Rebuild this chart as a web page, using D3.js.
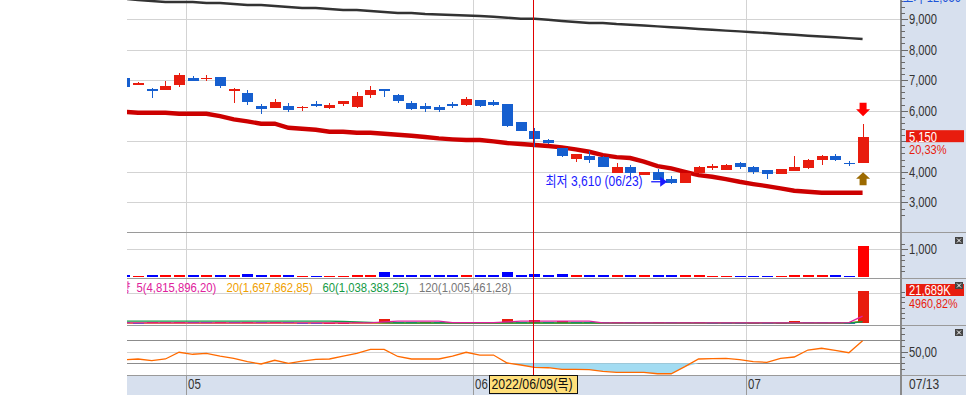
<!DOCTYPE html>
<html><head><meta charset="utf-8">
<script src="https://cdn.jsdelivr.net/npm/d3@7/dist/d3.min.js"></script>
<style>
html,body{margin:0;padding:0;background:#fff;overflow:hidden}
svg{display:block}
text{font-family:"Liberation Sans","Noto Sans CJK KR",sans-serif}
</style></head><body>
<svg id="c" width="966" height="395"></svg>
<script>
// ---------------- DATA ----------------
const dates = ["04/25","04/26","04/27","04/28","04/29",
 "05/02","05/03","05/04","05/06","05/09","05/10","05/11","05/12","05/13","05/16","05/17","05/18","05/19","05/20",
 "05/23","05/24","05/25","05/26","05/27","05/30","05/31",
 "06/02","06/03","06/07","06/08","06/09","06/10","06/13","06/14","06/15","06/16","06/17","06/20","06/21","06/22",
 "06/23","06/24","06/27","06/28","06/29","06/30",
 "07/01","07/04","07/05","07/06","07/07","07/08","07/11","07/12","07/13"];
const open  = [7070,6850,6710,6690,6850,7070,7040,7100,6660,6580,6150,6100,6150,6100,6230,6100,6230,6130,6520,6710,6520,6260,6150,6120,6210,6200,6350,6290,6220,5630,5340,5040,4780,4430,4520,4470,3960,4160,3890,3990,3760,3620,3970,4130,4060,4290,4160,4060,3930,4030,4120,4390,4520,4290,4280];
const high  = [7070,6940,6740,6970,7220,7130,7170,7100,6740,6670,6220,6370,6250,6160,6320,6250,6330,6610,6810,6710,6530,6320,6260,6180,6290,6450,6350,6350,6220,5630,5440,5070,4780,4580,4690,4510,4290,4220,4000,4080,3860,3950,4190,4250,4250,4320,4190,4060,4090,4520,4430,4550,4580,4350,5560];
const low   = [6780,6850,6420,6690,6780,6980,6980,6750,6260,6200,5900,6100,5970,6000,6130,6060,6160,6090,6420,6460,6260,6020,5970,5960,6100,6160,6130,6150,5470,5340,4800,4910,4490,4330,4290,4170,3960,3770,3890,3740,3610,3620,3970,4060,4060,4090,3930,3760,3930,4030,4090,4220,4350,4190,4280];
const close = [6780,6900,6650,6810,7170,6980,7080,6820,6710,6290,6060,6280,6030,6130,6160,6190,6330,6490,6690,6650,6330,6060,6060,6020,6170,6380,6160,6190,5500,5340,5060,4930,4530,4580,4400,4170,4160,3950,3990,3740,3620,3950,4160,4190,4220,4160,3990,3930,4090,4160,4390,4520,4390,4280,5150];
const maLong = [9660,9622,9589,9556,9556,9556,9524,9524,9491,9458,9458,9425,9393,9360,9360,9327,9295,9295,9262,9229,9196,9196,9164,9147,9131,9115,9098,9075,9043,9010,9010,8977,8935,8902,8869,8869,8836,8813,8787,8758,8732,8705,8673,8647,8620,8594,8568,8542,8509,8483,8453,8427,8401,8375,8345];
const maMid = [5966,5933,5933,5933,5900,5900,5900,5825,5717,5651,5573,5573,5442,5410,5377,5311,5311,5279,5279,5246,5213,5180,5138,5095,5063,5040,5040,4997,4942,4909,4876,4843,4801,4735,4657,4549,4483,4451,4336,4189,4113,4002,3894,3839,3763,3675,3600,3534,3459,3380,3348,3315,3315,3315,3315];
const tradeValue = [75,40,70,68,72,66,62,70,64,105,68,74,66,42,38,35,38,70,75,175,65,60,68,62,70,72,66,68,170,70,105,62,108,66,70,68,72,64,60,66,62,72,70,38,36,35,34,32,36,72,74,70,66,34,1130];
const volume = [640,420,610,640,700,620,600,650,620,1150,720,760,690,430,390,400,420,720,760,2900,700,650,680,640,700,720,660,690,2700,760,1950,740,1300,720,690,660,700,640,620,650,600,680,700,420,400,380,390,370,410,1350,640,600,560,428,21689];
const volMA5   = [350,350,350,350,350,350,350,350,350,350,350,350,350,350,350,350,350,350,350,900,1500,1500,1500,1500,400,400,400,400,900,1500,1500,1500,1500,1500,1500,350,350,350,350,350,350,350,350,350,350,350,350,350,350,350,350,350,350,420,4816];
const volMA20  = [120,120,120,120,120,120,120,120,120,120,120,120,120,120,120,120,120,120,120,120,120,120,120,120,120,120,120,120,120,120,120,120,120,120,120,120,120,120,120,120,120,120,120,120,120,120,120,120,120,120,120,120,120,150,1698];
const volMA60  = [1500,1500,1500,1500,1500,1500,1500,1500,1500,1500,1500,1500,1500,1500,1500,1500,1200,900,600,300,200,200,200,200,200,200,200,200,200,200,200,200,200,200,200,200,200,200,200,200,200,200,200,200,200,200,200,200,200,200,200,200,200,200,1038];
const volMA120 = [60,60,60,60,60,60,60,60,60,60,60,60,60,60,60,60,60,60,60,60,60,60,60,60,60,60,60,60,60,60,60,60,60,60,60,60,60,60,60,60,60,60,60,60,60,60,60,60,60,60,60,60,60,80,1005];
const indicator = [36.2,37.4,34.5,37.4,48.9,45.5,47.2,42.5,38.6,32.7,28.8,35.2,30.0,33.9,36.9,37.4,42.5,47.2,54.0,54.0,41.7,37.4,37.4,37.4,42.5,48.9,44.2,44.2,30.5,27.1,23.1,22.4,19.7,19.7,19.0,16.3,14.5,14.5,14.5,12.1,12.1,24.2,37.4,37.9,38.6,36.2,32.7,31.7,38.6,40.8,52.8,55.8,52.3,48.2,68.8];
const priceTicks = [3000,4000,5000,6000,7000,8000,9000];
const monthLabels = ["05","06","07"];
const monthStartIdx = [5,26,46];
const legendLabels = ["5(4,815,896,20)","20(1,697,862,85)","60(1,038,383,25)","120(1,005,461,28)"];
const crossIdx = 30;
const crossLabel = "2022/06/09(목)";
const lowIdx = 40;
const lowLabel = "최저 3,610 (06/23)";
const lastDateLabel = "07/13";
const volLastLabel = "21,689K";
const volChangeLabel = "4960,82%";
const topLabel = "고가 12,050";

// ---------------- LAYOUT ----------------
const W = 966, H = 395;
const L = 127, R = 901;
const P = {price:[0,232], tv:[232,277.5], vol:[277.5,324.5], ind:[324.5,375]};
const AXBG = "#d7e0ee";
const RED = "#e81c0e", BLUE = "#165fcf";
const svg = d3.select("#c");

const x = d3.scaleLinear().domain([0,1]).range([124.4, 124.4+13.67]);
const yP = d3.scaleLinear().domain([3000,9000]).range([202.4,19]);
const yT = d3.scaleLinear().domain([0,1000]).range([277,249.3]);
const yV = d3.scaleLinear().domain([0,21689]).range([323.3,291]);
const yI = d3.scaleLinear().domain([30,70]).range([363.3,340]);
const n = close.length;
const idx = d3.range(n);
const comma = s => s.replace(".", ",");
function narrow(sel, f){
  sel.each(function(){
    const w = this.getComputedTextLength();
    this.setAttribute("textLength", (w*f).toFixed(2));
    this.setAttribute("lengthAdjust","spacingAndGlyphs");
  });
  return sel;
}

svg.append("rect").attr("width",W).attr("height",H).attr("fill","#fff");
svg.append("rect").attr("x",R).attr("y",0).attr("width",W-R).attr("height",H).attr("fill",AXBG);
svg.append("rect").attr("x",L).attr("y",375).attr("width",R-L).attr("height",20).attr("fill",AXBG);

const defs = svg.append("defs");
Object.entries(P).forEach(([k,[a,b]])=>{
  defs.append("clipPath").attr("id","clip-"+k).append("rect").attr("x",L).attr("y",a).attr("width",R-L).attr("height",b-a);
});
const g = k => svg.append("g").attr("clip-path",`url(#clip-${k})`);

// ---------- grid ----------
const grid = svg.append("g").attr("shape-rendering","crispEdges");
const hl = (yy,c)=>grid.append("line").attr("x1",L).attr("x2",R).attr("y1",Math.round(yy)+0.5).attr("y2",Math.round(yy)+0.5).attr("stroke",c);
priceTicks.forEach(v=>hl(yP(v),"#d3d3d3"));
hl(yT(1000),"#d3d3d3");
hl(293,"#d3d3d3");
hl(yI(50),"#d3d3d3");
monthStartIdx.forEach(i=>{
  const gx = Math.round(x(i-0.5))+0.5;
  grid.append("line").attr("x1",gx).attr("x2",gx).attr("y1",0).attr("y2",375).attr("stroke","#d3d3d3");
});
[70,30].forEach(v=>hl(yI(v),"#8c8c8c"));

// ---------- price panel ----------
const gp = g("price");
gp.append("path").datum(maLong).attr("fill","none").attr("stroke","#333").attr("stroke-width",2.4)
  .attr("d", d3.line().x((d,i)=>x(i)).y(d=>yP(d)));
gp.append("path").datum(maMid).attr("fill","none").attr("stroke","#cc0000").attr("stroke-width",4.4)
  .attr("d", d3.line().x((d,i)=>x(i)).y(d=>yP(d)));
const cg = gp.append("g").attr("shape-rendering","crispEdges");
idx.forEach(i=>{
  const col = close[i] >= open[i] ? RED : BLUE;
  const cx = Math.round(x(i));
  cg.append("rect").attr("x",cx).attr("width",1.2).attr("y",yP(high[i])).attr("height",Math.max(1,yP(low[i])-yP(high[i]))).attr("fill",col);
  const top = yP(Math.max(open[i],close[i])), bot = yP(Math.min(open[i],close[i]));
  cg.append("rect").attr("x",cx-5).attr("width",11).attr("y",top).attr("height",Math.max(1.2,bot-top)).attr("fill",col);
});
{
  const cx = x(n-1)+0.5, hy = yP(high[n-1]), ly = yP(low[n-1]);
  gp.append("path").attr("fill","#ff0000")
    .attr("d",`M${cx-3.5},${hy-21.5}H${cx+3.5}V${hy-15}H${cx+7}L${cx},${hy-8}L${cx-7},${hy-15}H${cx-3.5}Z`);
  gp.append("path").attr("fill","#9c6a00")
    .attr("d",`M${cx-3.5},${ly+22}H${cx+3.5}V${ly+15.5}H${cx+7}L${cx},${ly+9}L${cx-7},${ly+15.5}H${cx-3.5}Z`);
}
{
  const ax = x(lowIdx)-4, ay = yP(low[lowIdx])-2;
  narrow(gp.append("text").attr("x",545.5).attr("y",ay+4.5).attr("font-size",14).attr("fill","#1a1aff").text(lowLabel),0.86);
  gp.append("line").attr("x1",ax-16).attr("x2",ax-6).attr("y1",ay).attr("y2",ay).attr("stroke","#1a1aff").attr("stroke-width",1.3);
  gp.append("path").attr("fill","#1a1aff").attr("d",`M${ax-7},${ay-5}L${ax},${ay}L${ax-7},${ay+5}Z`);
}

// ---------- trade value panel ----------
const gt = g("tv").attr("shape-rendering","crispEdges");
idx.forEach(i=>{
  const col = close[i] >= open[i] ? "#ff0000" : "#0000ff";
  gt.append("rect").attr("x",Math.round(x(i))-5).attr("width",10.5).attr("y",yT(tradeValue[i])).attr("height",yT(0)-yT(tradeValue[i])).attr("fill",col);
});

// ---------- volume panel ----------
const gv = g("vol");
const maLine = (arr,c)=>gv.append("path").datum(arr).attr("fill","none").attr("stroke",c).attr("stroke-width",1.3)
    .attr("d", d3.line().x((d,i)=>x(i)).y(d=>yV(d)));
maLine(volMA120,"#888");
maLine(volMA20,"#f0a000");
const gvb = gv.append("g").attr("shape-rendering","crispEdges");
idx.forEach(i=>{
  const col = (i>0 && volume[i] > volume[i-1]) ? RED : "#3a66c4";
  gvb.append("rect").attr("x",Math.round(x(i))-5).attr("width",10.5).attr("y",yV(volume[i])).attr("height",Math.max(1,yV(0)-yV(volume[i]))).attr("fill",col);
});
maLine(volMA60,"#139a45");
maLine(volMA5,"#e0209c");
const legColors = ["#e0209c","#f0a000","#139a45","#777"];
const legX = [136.5,226.5,322.5,419];
narrow(gv.append("text").attr("x",120).attr("y",291.5).attr("font-size",13).attr("fill","#e0209c").text("량"),0.86);
legendLabels.forEach((t,k)=>narrow(gv.append("text").attr("x",legX[k]).attr("y",291.5).attr("font-size",13).attr("fill",legColors[k]).text(t),0.87));

// ---------- indicator panel ----------
const gi = g("ind");
gi.append("path").datum(indicator).attr("fill","#a3dcf2")
  .attr("d", d3.area().x((d,i)=>x(i)).y0(yI(30)).y1(d=>yI(Math.min(d,30))));
gi.append("path").datum(indicator).attr("fill","none").attr("stroke","#ff6a00").attr("stroke-width",1.3)
  .attr("d", d3.line().x((d,i)=>x(i)).y(d=>yI(d)));

// ---------- separators ----------
const sep = svg.append("g").attr("shape-rendering","crispEdges");
[232,277.5,324.5,375].forEach(v=>sep.append("line").attr("x1",L).attr("x2",W).attr("y1",Math.round(v)+0.5).attr("y2",Math.round(v)+0.5).attr("stroke","#9a9a9a"));
sep.append("line").attr("x1",R).attr("x2",R).attr("y1",0).attr("y2",H).attr("stroke","#8a8a8a").attr("stroke-width",2);

// ---------- crosshair ----------
const chx = Math.round(x(crossIdx))-0.5;
svg.append("line").attr("x1",chx).attr("x2",chx).attr("y1",0).attr("y2",375).attr("stroke","#e00000").attr("stroke-width",1).attr("shape-rendering","crispEdges");

// ---------- right axes ----------
const closeY = yP(close[n-1]);
function axis(scale, minorVals, majorVals, fmt){
  const a = svg.append("g").attr("transform",`translate(${R},0)`);
  a.call(d3.axisRight(scale).tickValues(minorVals).tickSize(4).tickFormat(""));
  a.select(".domain").remove();
  const b = svg.append("g").attr("transform",`translate(${R},0)`);
  b.call(d3.axisRight(scale).tickValues(majorVals).tickSize(7).tickPadding(1).tickFormat(fmt));
  b.select(".domain").remove();
  [a,b].forEach(s=>{s.selectAll("line").attr("stroke","#6a6a6a").attr("shape-rendering","crispEdges");
    s.selectAll("text").attr("font-size",14).attr("fill","#333").attr("font-family",null);});
  narrow(b.selectAll("text"),0.8);
  return b;
}
const pa = axis(yP, d3.range(2600,9800,200).filter(v=>v%1000), priceTicks, d3.format(","));
pa.selectAll(".tick").filter(d=>Math.abs(yP(d)-closeY)<12).select("text").remove();
axis(yT, [200,400,600,800,1200], [1000], d3.format(","));
axis(yV, [3500,7000,10500,14000,17500,21000], [], "");
axis(yI, [20,30,40,60,70,80,90], [50], d=>comma(d3.format(".2f")(d)));

{
  svg.append("rect").attr("x",906).attr("y",closeY-6.5).attr("width",58).attr("height",12).attr("fill",RED);
  narrow(svg.append("text").attr("x",909).attr("y",closeY+5).attr("font-size",14).attr("fill","#fff").text(d3.format(",")(close[n-1])),0.8);
  const pct = comma(((close[n-1]/close[n-2]-1)*100).toFixed(2))+"%";
  narrow(svg.append("text").attr("x",909).attr("y",closeY+17).attr("font-size",13.5).attr("fill",RED).text(pct),0.82);
  const vy = yV(volume[n-1]);
  svg.append("rect").attr("x",906).attr("y",vy-7).attr("width",58).attr("height",12).attr("fill",RED);
  narrow(svg.append("text").attr("x",909).attr("y",vy+4).attr("font-size",14).attr("fill","#fff").text(volLastLabel),0.8);
  narrow(svg.append("text").attr("x",909).attr("y",vy+16.5).attr("font-size",13.5).attr("fill",RED).text(volChangeLabel),0.8);
}
[237,282,329].forEach(by=>{
  svg.append("rect").attr("x",955).attr("y",by).attr("width",8).attr("height",7).attr("fill","#444");
  svg.append("path").attr("d",`M957,${by+1.5}L961,${by+5.5}M961,${by+1.5}L957,${by+5.5}`).attr("stroke","#fff").attr("stroke-width",1);
});
narrow(svg.append("text").attr("x",903).attr("y",1.5).attr("font-size",14).attr("fill","#1d55d8").text(topLabel),0.8);

// ---------- x axis band ----------
monthStartIdx.forEach((i,k)=>{
  const gx = Math.round(x(i-0.5))+0.5;
  svg.append("line").attr("x1",gx).attr("x2",gx).attr("y1",375).attr("y2",395).attr("stroke","#9a9a9a").attr("shape-rendering","crispEdges");
  narrow(svg.append("text").attr("x",gx+1.5).attr("y",389).attr("font-size",14).attr("fill","#333").text(monthLabels[k]),0.82);
});
narrow(svg.append("text").attr("x",909).attr("y",389).attr("font-size",14).attr("fill","#333").text(lastDateLabel),0.86);
{
  const cx = x(crossIdx)-1;
  svg.append("rect").attr("x",cx-44).attr("y",375.5).attr("width",88).attr("height",18).attr("fill","#ffdf7a").attr("stroke","#111").attr("stroke-width",1);
  narrow(svg.append("text").attr("x",cx-42).attr("y",389).attr("font-size",14).attr("fill","#111").text(crossLabel),0.88);
}
</script></body></html>
